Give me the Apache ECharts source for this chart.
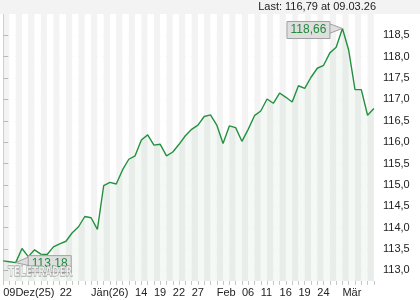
<!DOCTYPE html>
<html>
<head>
<meta charset="utf-8">
<script src="https://cdn.jsdelivr.net/npm/echarts@6/dist/echarts.min.js"></script>
<style>
  html, body { margin: 0; padding: 0; background: #fff; }
  #chart { width: 420px; height: 300px; }
</style>
</head>
<body>
<div id="chart"></div>
<script>
// trading days (DD.MM.YY)
const dates = [
  '09.12.25', '10.12.25', '11.12.25', '12.12.25', '15.12.25', '16.12.25', '17.12.25', '18.12.25', '19.12.25', '22.12.25',
  '23.12.25', '29.12.25', '30.12.25', '31.12.25', '05.01.26', '06.01.26', '07.01.26', '08.01.26', '09.01.26', '12.01.26',
  '13.01.26', '14.01.26', '15.01.26', '16.01.26', '19.01.26', '20.01.26', '21.01.26', '22.01.26', '23.01.26', '26.01.26',
  '27.01.26', '28.01.26', '29.01.26', '30.01.26', '02.02.26', '03.02.26', '04.02.26', '05.02.26', '06.02.26', '09.02.26',
  '10.02.26', '11.02.26', '12.02.26', '13.02.26', '16.02.26', '17.02.26', '18.02.26', '19.02.26', '20.02.26', '23.02.26',
  '24.02.26', '25.02.26', '26.02.26', '27.02.26', '02.03.26', '03.03.26', '04.03.26', '05.03.26', '06.03.26', '09.03.26'
];

const prices = [
  113.22, 113.20, 113.18, 113.51, 113.32, 113.48, 113.38, 113.37, 113.55, 113.62,
  113.68, 113.88, 114.02, 114.26, 114.23, 113.96, 114.98, 115.06, 115.02, 115.35,
  115.60, 115.68, 116.05, 116.17, 115.93, 115.95, 115.68, 115.77, 115.95, 116.15,
  116.30, 116.40, 116.60, 116.64, 116.40, 115.97, 116.38, 116.34, 116.02, 116.30,
  116.62, 116.73, 117.01, 116.91, 117.15, 117.05, 116.94, 117.32, 117.26, 117.52,
  117.73, 117.80, 118.09, 118.22, 118.66, 118.15, 117.23, 117.23, 116.63, 116.79
];

// x axis labels: index into dates -> text
const tickIndex = [0, 9, 14, 21, 24, 27, 30, 34, 38, 41, 44, 47, 50, 54];
const tickText = ['09Dez(25)', '22', 'Jän(26)', '14', '19', '22', '27', 'Feb', '06', '11', '16', '19', '24', 'Mär'];

const fmt = (v, d) => v.toFixed(d).replace('.', ',');
const FONT = 'Liberation Sans';
const GREEN = '#23913f';

const chart = echarts.init(document.getElementById('chart'), null, { renderer: 'canvas' });

chart.setOption({
  animation: false,
  backgroundColor: '#fff',
  grid: { left: 0, right: 43, top: 14, bottom: 19 },
  xAxis: {
    type: 'value',
    min: -0.5,
    max: dates.length - 0.5,
    splitNumber: dates.length,
    axisLine: { show: false },
    axisTick: { show: true, length: 4, lineStyle: { color: '#c8c8c8' } },
    axisLabel: {
      showMinLabel: false,
      showMaxLabel: false,
      align: 'left',
      margin: 6,
      fontFamily: FONT,
      fontSize: 11,
      color: '#222',
      formatter: (v) => {
        const k = tickIndex.indexOf(v);
        return k >= 0 ? tickText[k] : '';
      }
    },
    splitLine: { show: false },
    splitArea: { show: true, areaStyle: { color: ['#ffffff', '#f3f3f3'] } }
  },
  yAxis: {
    type: 'value',
    position: 'right',
    min: 112.75,
    max: 119,
    splitNumber: 12,
    axisLine: { show: true, lineStyle: { color: '#d0d0d0' } },
    axisTick: { show: true, length: 5, lineStyle: { color: '#b8b8b8' } },
    axisLabel: {
      showMinLabel: false,
      showMaxLabel: false,
      margin: 6,
      fontFamily: FONT,
      fontSize: 11,
      color: '#222',
      formatter: (v) => (Math.abs(v * 2 - Math.round(v * 2)) < 1e-6 ? fmt(v, 1) : '')
    },
    splitLine: { show: true, showMinLine: false, showMaxLine: false, lineStyle: { color: '#e0e0e0' } }
  },
  series: [{
    type: 'line',
    data: prices.map((p, i) => [i, p]),
    showSymbol: false,
    symbol: 'none',
    lineStyle: { color: GREEN, width: 1.4 },
    areaStyle: { color: 'rgba(40,140,60,0.07)' },
    z: 3
  }]
});

// annotations (max / min), watermark and header
const iMax = prices.indexOf(Math.max(...prices));
const iMin = prices.indexOf(Math.min(...prices));
const pMax = chart.convertToPixel({ seriesIndex: 0 }, [iMax, prices[iMax]]);
const pMin = chart.convertToPixel({ seriesIndex: 0 }, [iMin, prices[iMin]]);

const boxW = 43, boxH = 17;
const maxRight = pMax[0] - 12.5, maxTop = pMax[1] - 7;
const minLeft = pMin[0] + 12.5, minTop = pMin[1] - 7;

chart.setOption({
  graphic: [
    { type: 'rect', left: 0, top: 0, shape: { width: 420, height: 14 }, style: { fill: '#f3f3f3' }, z: 10 },
    {
      type: 'text', right: 44, top: 1, z: 11,
      style: { text: 'Last: ' + fmt(prices[prices.length - 1], 2) + ' at ' + dates[dates.length - 1], fill: '#222', font: '11px "' + FONT + '"' }
    },
    // max label
    {
      type: 'polygon', z: 20,
      shape: { points: [[maxRight - 1, maxTop + 2], [pMax[0], pMax[1]], [maxRight - 1, maxTop + 12]] },
      style: { fill: '#dedede', stroke: '#a0a0a0', lineWidth: 1 }
    },
    {
      type: 'rect', z: 21,
      shape: { x: maxRight - boxW, y: maxTop, width: boxW, height: boxH },
      style: { fill: '#dedede', stroke: '#a0a0a0', lineWidth: 1 }
    },
    {
      type: 'text', z: 22, x: maxRight - boxW / 2, y: maxTop + boxH / 2,
      style: { text: fmt(prices[iMax], 2), fill: '#1f8a3a', font: '12px "' + FONT + '"', align: 'center', verticalAlign: 'middle' }
    },
    // min label
    {
      type: 'polygon', z: 20,
      shape: { points: [[pMin[0], pMin[1]], [minLeft + 1, minTop + 1], [minLeft + 1, minTop + 10]] },
      style: { fill: '#dedede', stroke: '#a0a0a0', lineWidth: 1 }
    },
    {
      type: 'rect', z: 21,
      shape: { x: minLeft, y: minTop, width: boxW, height: boxH },
      style: { fill: '#dedede', stroke: '#a0a0a0', lineWidth: 1 }
    },
    {
      type: 'text', z: 22, x: minLeft + boxW / 2, y: minTop + boxH / 2,
      style: { text: fmt(prices[iMin], 2), fill: '#1f8a3a', font: '12px "' + FONT + '"', align: 'center', verticalAlign: 'middle' }
    },
    // watermark
    {
      type: 'text', z: 30, x: 8, y: 265, scaleX: 0.64,
      style: { text: 'TELETRADER', fill: 'rgba(255,255,255,0.6)', stroke: '#8c8c8c', lineWidth: 0.8, font: 'bold 14px "DejaVu Sans"' }
    }
  ]
});
</script>
</body>
</html>
